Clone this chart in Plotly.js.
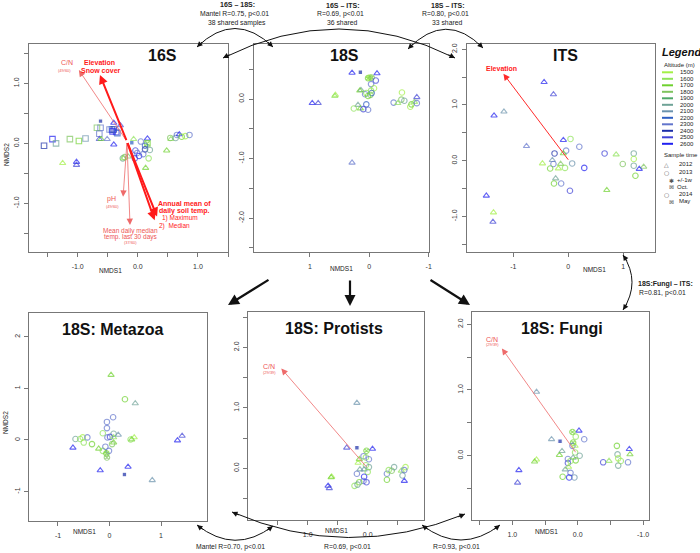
<!DOCTYPE html>
<html><head><meta charset="utf-8">
<script src="https://cdn.plot.ly/plotly-3.0.1.min.js"></script>
<style>html,body{margin:0;padding:0;background:#fff}#chart{width:700px;height:553px}</style>
</head><body><div id="chart"></div>
<script>
// ---------- legend data ----------
const altitudes = [1500,1600,1700,1800,1900,2000,2100,2200,2300,2400,2500,2600];
const altColors = ['#a3f046','#8fe35a','#6fd12f','#7fc45e','#4fa868','#6fa397','#6b93ad','#2f5fc2','#6275cc','#1c2fa8','#4043d6','#2020f0'];
const sampleTimes = ['2012','2013','+/-1w','Oct.','2014','May'];
const timeSymbols = ['triangle-up-open','circle-open','circle-x-open','square-x-open','square-open','square'];

// ---------- 16S ----------
const s16_x = [-1.56,-1.42,-1.36,-1.13,-0.98,-0.87,-1.25,-1.02,-1.02,-0.62,-0.62,-0.68,-0.64,-0.64,-0.61,-0.51,-0.40,-0.40,-0.29,-0.47,-0.43,-0.40,-0.36,-0.34,-0.42,-0.10,-0.07,0.05,0.16,0.16,0.12,0.12,0.20,-0.04,-0.01,0.02,0.09,-0.05,-0.25,-0.22,-0.24,-0.16,0.18,0.13,0.48,0.55,0.54,0.63,0.65,0.69,0.73,0.79,0.86];
const s16_y = [-0.04,0.07,0.00,0.07,0.04,0.08,-0.33,-0.31,-0.36,0.37,0.26,0.26,0.16,0.07,0.07,0.07,-0.02,0.34,0.30,0.23,0.23,0.23,0.19,0.17,0.20,0.01,0.07,0.03,0.08,0.00,-0.04,-0.10,-0.11,-0.12,-0.16,-0.21,-0.18,-0.25,-0.25,-0.23,-0.25,-0.22,-0.25,-0.41,-0.12,0.07,0.09,0.09,0.14,0.15,0.11,0.12,0.14];
const s16_alt = [2400,2600,2000,1800,1700,2100,1500,2600,2500,2400,2300,1800,2300,2500,1700,2300,2600,2600,2500,2300,2200,2400,2500,2200,2600,2200,1600,2300,2600,1700,2200,2400,2000,2500,2300,2600,2300,2500,2000,1800,1600,1800,1600,1700,1700,1600,1800,2000,2300,2600,1700,1500,2300];
const s16_time = ['2014','2014','2014','2014','2014','2014','2012','2012','2012','May','2014','2014','2014','2012','2012','2012','2012','2012','2012','2014','2014','2014','2014','2014','2014','May','2012','2013','2012','Oct.','2013','2013','2013','2013','2013','2013','2013','2013','2013','2013','2012','2012','2013','2012','2012','2012','2013','2013','2013','2012','2013','2013','2013'];
const v16_origin = [-0.18,0.03];
const v16_x = [-0.98,-0.63,-0.245,-0.13,0.32,0.28];
const v16_y = [1.22,1.14,-0.89,-1.36,-1.22,-1.28];
const v16_thick = [false,true,false,false,true,true];

// ---------- 18S ----------
const s18_x = [0.96,0.86,0.57,0.58,0.29,0.15,-0.13,0.02,-0.01,-0.04,-0.11,-0.03,-0.08,0.14,0.16,-0.03,0.07,-0.02,-0.04,0.05,0.02,0.05,0.19,0.26,0.15,0.10,0.02,-0.41,-0.48,-0.55,-0.54,-0.59,-0.69,-0.71,-0.76,-0.80,-0.80,0.29];
const s18_y = [-0.07,-0.07,0.07,0.05,0.44,0.45,0.43,0.35,0.36,0.36,0.31,0.25,0.18,0.15,0.14,0.14,0.08,0.07,0.10,0.10,0.05,-0.09,-0.10,-0.16,-0.16,-0.17,-0.18,-0.06,-0.07,0.11,-0.01,-0.03,-0.13,-0.09,-0.05,0.03,-0.07,-1.07];
const s18_alt = [2600,2500,1500,1600,2600,2400,2600,1700,1500,1800,2500,2300,1500,2000,1700,1600,2300,1800,2200,1600,1700,2200,2000,1600,1700,2500,2300,2300,1600,1500,1800,2000,1500,1700,1600,2500,2300,2300];
const s18_time = ['2012','2012','2012','2012','2012','May','2012','+/-1w','+/-1w','+/-1w','2013','2013','2013','2012','2012','2013','2013','2013','2013','2013','2013','2013','2012','2013','2012','2013','2013','2013','2012','2013','2013','2013','2013','2013','2012','2012','2013','2012'];

// ---------- ITS ----------
const its_x = [-0.44,-0.27,-1.35,-1.17,-0.76,-0.09,0.04,-0.04,0.20,-0.25,-0.09,-0.29,-0.47,-0.27,-0.14,0.07,-0.33,-0.18,-0.06,0.29,-0.23,-0.26,-0.13,0.03,0.66,0.87,0.99,0.70,1.19,1.19,1.19,1.37,1.29,1.22,-1.49,-1.36,-1.37];
const its_y = [1.41,1.19,0.81,0.88,0.26,0.37,0.39,0.18,0.25,0.13,0.13,0.01,-0.05,-0.06,-0.06,-0.05,-0.14,-0.14,-0.13,-0.13,-0.32,-0.41,-0.41,-0.54,0.13,0.11,-0.06,-0.53,0.13,0.03,-0.09,-0.11,-0.15,-0.27,-0.63,-0.93,-1.10];
const its_alt = [2600,2500,2600,2100,2300,2600,1600,2300,2300,2400,1700,2100,1500,2300,1800,2100,1700,1500,1600,2600,2000,1700,2300,2500,2500,1600,1800,1700,2000,1500,2000,1800,2600,1700,2600,1500,2500];
const its_time = ['2012','2012','2012','2012','2012','2012','2013','2013','2013','2013','2012','2012','2012','2013','2012','2013','2013','2012','2013','2013','2012','2013','2013','2013','2013','2012','2013','2012','2013','2013','2013','2012','2012','2013','2012','2012','2012'];
const vits_origin = [0.02,-0.01];
const vits_end = [-1.18,1.56];

// ---------- 18S: Metazoa ----------
const met_x = [0.03,0.30,0.50,0.07,-0.05,-0.05,-0.13,0.08,0.17,0.01,-0.04,0.08,0.48,0.43,0.41,-0.66,-0.57,-0.52,-0.50,-0.43,-0.34,-0.71,-0.21,-0.13,-0.01,0.08,0.05,-0.06,-0.05,-0.08,-0.18,0.36,0.29,0.83,1.32,1.41];
const met_y = [1.26,0.79,0.71,0.44,0.35,0.23,0.13,0.12,0.10,0.06,0.05,0.05,0.05,0.01,0.01,0.02,0.02,0.05,-0.05,0.05,-0.08,-0.15,-0.17,-0.21,-0.21,-0.05,-0.08,-0.26,-0.34,-0.13,-0.59,-0.52,-0.67,-0.78,-0.01,0.08];
const met_alt = [1700,1700,2000,2300,2300,2300,1600,2000,2100,2500,2300,1600,1500,1700,1600,2000,1600,1500,1600,2300,1700,2600,1700,1600,2300,1700,1800,1700,1800,2300,2600,2600,2400,2100,2600,2500];
const met_time = ['2012','2013','2012','2013','2013','2013','2013','2013','2012','2013','2013','2012','2012','2012','2013','2013','2013','2013','2013','2013','2013','2012','2012','2013','2013','2012','2013','+/-1w','+/-1w','2013','2012','2012','May','2012','2012','2012'];

// ---------- 18S: Protists ----------
const pro_x = [0.18,0.35,0.18,-0.08,0.02,0.07,0.03,-0.02,0.14,0.16,0.03,0.13,0.06,-0.02,0.00,0.18,0.06,0.07,0.02,0.14,0.22,0.17,0.60,0.61,0.66,0.64,-0.32,-0.32,-0.35,-0.40,-0.44,-0.56,-0.58,-0.63,-0.61,-0.61];
const pro_y = [1.08,0.34,0.34,0.32,0.29,0.20,0.18,0.15,0.15,0.09,0.05,-0.02,-0.02,0.02,-0.06,-0.09,-0.14,-0.21,-0.23,-0.23,-0.29,-0.27,-0.14,-0.15,-0.29,-0.33,-0.09,-0.19,-0.03,-0.04,0.02,-0.04,-0.12,0.02,-0.03,-0.21];
const pro_alt = [2100,2500,2400,2600,1700,2300,1600,2300,1700,1500,1600,2000,2100,2000,1600,2300,2600,2300,2500,1700,1600,2000,1500,1700,2600,2500,2300,1700,1600,1800,2000,1600,2000,1500,2300,2600];
const pro_time = ['2012','2012','May','2012','+/-1w','2013','2013','2013','2012','2012','2013','2012','2012','2013','2013','2013','2013','2013','2013','2013','2013','2013','2012','2012','2012','2012','2013','2013','2013','2013','2013','2012','2013','2013','2013','2012'];
const vpro_origin = [0.0,0.0];
const vpro_end = [1.44,1.65];

// ---------- 18S: Fungi ----------
const fun_x = [0.63,-0.02,0.08,0.03,-0.10,0.40,0.27,0.07,0.08,0.04,0.24,0.04,0.28,-0.03,0.15,0.07,0.03,0.15,0.11,0.14,0.19,0.11,0.23,0.13,0.05,0.63,0.66,0.90,0.92,-0.39,-0.48,-0.60,-0.61,-0.62,-0.62,-0.66,-0.79,-0.80,-0.77];
const fun_y = [0.97,0.38,0.36,0.29,0.25,0.25,0.22,0.20,0.15,0.15,0.07,0.05,0.01,0.00,-0.05,-0.03,-0.07,-0.11,-0.08,-0.17,-0.21,-0.26,-0.32,-0.33,-0.33,-0.06,-0.09,-0.22,-0.41,-0.10,-0.08,0.15,0.02,-0.04,-0.15,-0.08,0.10,0.02,-0.10];
const fun_alt = [2100,2600,1700,1600,2300,2100,2400,1700,2300,1500,2000,1600,1700,2000,2300,2000,1700,2500,1600,1500,2000,2300,1700,2600,2100,1500,1700,2600,2500,2500,1600,1700,2000,1500,2000,1600,2600,1700,2300];
const fun_time = ['2012','2012','+/-1w','2013','2013','2012','May','+/-1w','2013','2012','2012','2013','2012','2013','2013','2012','2013','2013','2013','2012','2012','2013','2013','2013','2013','2012','2012','2012','2012','2013','2012','2013','2013','2013','2013','2013','2012','2012','2013'];
const vfun_origin = [0.015,0.03];
const vfun_end = [1.16,1.63];

// ---------- tick labels ----------
const t16_vals = [-1.5,-1,-0.5,0,0.5,1,1.5];
const t16_text = ['','-1.0','','0.0','','1.0',''];
const t18x_vals = [1,0,-1], t18x_text = ['1','0','-1'];
const t18y_vals = [0.5,0,-0.5,-1,-1.5,-2,-2.5], t18y_text = ['','0.0','','-1.0','','-2.0',''];
const titsx_vals = [-1,0,1], titsx_text = ['-1','0','1'];
const titsy_vals = [-1.5,-1,-0.5,0,0.5,1,1.5,2], titsy_text = ['','-1.0','','0.0','','1.0','','2.0'];
const tmet_vals = [-1,0,1,2], tmet_text = ['-1','0','1','2'];
const tprox_vals = [1.5,1,0.5,0,-0.5], tprox_text = ['','1.0','','0.0',''];
const tproy_vals = [-0.5,0,0.5,1,1.5,2,2.5], tproy_text = ['','0.0','','1.0','','2.0',''];
const tfunx_vals = [1.5,1,0.5,0,-0.5,-1], tfunx_text = ['','1.0','','0.0','','-1.0'];
const tfuny_vals = [-0.5,0,0.5,1,1.5,2], tfuny_text = ['','0.0','','1.0','','2.0'];

// ---------- build ----------
const FONT = 'Liberation Sans, Arial, sans-serif';
const W = 700, H = 553;
const px = x => x / W, py = y => 1 - y / H;
const colOf = a => altColors[altitudes.indexOf(a)];
const symOf = t => timeSymbols[sampleTimes.indexOf(t)];

const panels = [
  {n:1, x:s16_x, y:s16_y, a:s16_alt, t:s16_time, box:[29,228,44,252], xr:[-1.81,1.5], yr:[-1.81,1.655], xv:t16_vals, xt:t16_text, yv:t16_vals, yt:t16_text},
  {n:2, x:s18_x, y:s18_y, a:s18_alt, t:s18_time, box:[254,429,44,252], xr:[1.94,-1.005], yr:[-2.57,0.924], xv:t18x_vals, xt:t18x_text, yv:t18y_vals, yt:t18y_text},
  {n:3, x:its_x, y:its_y, a:its_alt, t:its_time, box:[466.7,655,44,252], xr:[-1.847,1.576], yr:[-1.64,2.095], xv:titsx_vals, xt:titsx_text, yv:titsy_vals, yt:titsy_text},
  {n:4, x:met_x, y:met_y, a:met_alt, t:met_time, box:[29.3,206.7,312.7,521], xr:[-1.557,1.887], yr:[-1.57,2.467], xv:tmet_vals, xt:tmet_text, yv:tmet_vals, yt:tmet_text},
  {n:5, x:pro_x, y:pro_y, a:pro_alt, t:pro_time, box:[248.3,424,312.3,520], xr:[1.99,-0.938], yr:[-0.855,2.579], xv:tprox_vals, xt:tprox_text, yv:tproy_vals, yt:tproy_text},
  {n:6, x:fun_x, y:fun_y, a:fun_alt, t:fun_time, box:[472.3,649.3,312.3,520], xr:[1.613,-1.096], yr:[-0.977,2.18], xv:tfunx_vals, xt:tfunx_text, yv:tfuny_vals, yt:tfuny_text}
];

const traces = [];
const layout = {
  width: W, height: H, margin: {l:0, r:0, t:0, b:0},
  paper_bgcolor: '#fff', plot_bgcolor: '#fff', showlegend: false,
  font: {family: FONT, size: 7, color: '#222'},
  annotations: [], shapes: []
};
const axBase = {showgrid:false, zeroline:false, showline:true, mirror:true, linecolor:'#777', linewidth:1,
  ticks:'outside', ticklen:4, tickcolor:'#777', tickmode:'array', tickfont:{family:FONT, size:7, color:'#333'}, fixedrange:true};

panels.forEach(p => {
  const sfx = p.n === 1 ? '' : String(p.n);
  traces.push({
    type:'scatter', mode:'markers', x:p.x, y:p.y, xaxis:'x'+sfx, yaxis:'y'+sfx,
    marker:{symbol:p.t.map(symOf), color:p.a.map(colOf), size:p.t.map(t => t === 'May' ? 4.5 : 5.5), line:{width:1.1}},
    hoverinfo:'skip', cliponaxis:false
  });
  layout['xaxis'+sfx] = Object.assign({}, axBase, {
    domain:[px(p.box[0]), px(p.box[1])], range:p.xr, anchor:'y'+sfx,
    tickvals:p.xv, ticktext:p.xt, ticklabelstandoff:4
  });
  layout['yaxis'+sfx] = Object.assign({}, axBase, {
    domain:[py(p.box[3]), py(p.box[2])], range:p.yr, anchor:'x'+sfx,
    tickvals:p.yv, ticktext:p.yt, tickangle:-90, ticklabelstandoff:2
  });
});

const A = layout.annotations, S = layout.shapes;
function txt(x, y, text, size, opts) {
  A.push(Object.assign({xref:'paper', yref:'paper', x:px(x), y:py(y), text:text, showarrow:false,
    font:{family:FONT, size:size, color:'#222'}, xanchor:'center', yanchor:'middle'}, opts || {}));
}
function vec(sfx, x0, y0, x1, y1, color, width, size) {
  A.push({xref:'x'+sfx, yref:'y'+sfx, axref:'x'+sfx, ayref:'y'+sfx, x:x1, y:y1, ax:x0, ay:y0,
    text:'', showarrow:true, arrowhead:2, arrowsize:size, arrowwidth:width, arrowcolor:color, standoff:0});
}
function head(hx, hy, tx, ty, width, size) {
  const dx = tx - hx, dy = ty - hy, L = Math.hypot(dx, dy), k = 9 / L;
  A.push({xref:'paper', yref:'paper', x:px(hx), y:py(hy), ax:dx*k, ay:dy*k, text:'', showarrow:true,
    arrowhead:2, arrowsize:size, arrowwidth:width, arrowcolor:'#111', standoff:0});
}
function curve(p0, c, p1) {
  S.push({type:'path', xref:'paper', yref:'paper',
    path:`M ${px(p0[0])},${py(p0[1])} Q ${px(c[0])},${py(c[1])} ${px(p1[0])},${py(p1[1])}`,
    line:{color:'#111', width:1}});
  head(p0[0], p0[1], c[0], c[1], 1, 1.1);
  head(p1[0], p1[1], c[0], c[1], 1, 1.1);
}
function straight(x0, y0, x1, y1) {
  A.push({xref:'paper', yref:'paper', x:px(x1), y:py(y1), ax:x0-x1, ay:y0-y1, text:'', showarrow:true,
    arrowhead:2, arrowsize:1, arrowwidth:2.2, arrowcolor:'#111', standoff:0});
}

// environmental vectors
v16_x.forEach((vx, i) => {
  if (v16_thick[i]) vec('', v16_origin[0], v16_origin[1], vx, v16_y[i], '#ff1a1a', 2, 0.9);
  else vec('', v16_origin[0], v16_origin[1], vx, v16_y[i], '#ee6a6a', 0.8, 1.6);
});
vec('3', vits_origin[0], vits_origin[1], vits_end[0], vits_end[1], '#ff2a2a', 1, 1.3);
vec('5', vpro_origin[0], vpro_origin[1], vpro_end[0], vpro_end[1], '#ee6a6a', 0.8, 1.6);
vec('6', vfun_origin[0], vfun_origin[1], vfun_end[0], vfun_end[1], '#ee6a6a', 0.8, 1.6);

// vector labels
const red = '#ff1a1a', lred = '#ee5555';
txt(66.7, 63, 'C/N', 7, {font:{family:FONT, size:7, color:lred}});
txt(64.5, 70, '(49/60)', 4, {font:{family:FONT, size:4, color:lred}});
txt(99.5, 63, '<b>Elevation</b>', 7, {font:{family:FONT, size:7, color:red}});
txt(101, 70.5, '<b>Snow cover</b>', 7, {font:{family:FONT, size:7, color:red}});
txt(111.7, 199, 'pH', 7, {font:{family:FONT, size:7, color:lred}});
txt(112.7, 206, '(49/60)', 4, {font:{family:FONT, size:4, color:lred}});
txt(184.3, 203.3, '<b>Annual mean of</b>', 7, {font:{family:FONT, size:7, color:red}});
txt(184.3, 211, '<b>daily soil temp.</b>', 7, {font:{family:FONT, size:7, color:red}});
txt(180, 218.3, '1) Maximum', 6.5, {font:{family:FONT, size:6.5, color:red}});
txt(174, 225.7, '2)  Median', 6.5, {font:{family:FONT, size:6.5, color:red}});
txt(130, 230.7, 'Mean daily median', 6.5, {font:{family:FONT, size:6.5, color:lred}});
txt(130, 237.3, 'temp. last 30 days', 6.5, {font:{family:FONT, size:6.5, color:lred}});
txt(130, 242.5, '(37/60)', 4, {font:{family:FONT, size:4, color:lred}});
txt(501, 68.3, '<b>Elevation</b>', 7, {font:{family:FONT, size:7, color:red}});
txt(269, 366.7, 'C/N', 7, {font:{family:FONT, size:7, color:lred}});
txt(269, 372.7, '(29/39)', 4, {font:{family:FONT, size:4, color:lred}});
txt(492.3, 339, 'C/N', 7, {font:{family:FONT, size:7, color:lred}});
txt(492.3, 345, '(29/39)', 4, {font:{family:FONT, size:4, color:lred}});

// panel titles
[[162,56,'16S'],[344,55,'18S'],[565,55,'ITS'],[112,329,'18S: Metazoa'],[334,328,'18S: Protists'],[562,328,'18S: Fungi']]
  .forEach(t => txt(t[0], t[1], '<b>'+t[2]+'</b>', 16, {font:{family:FONT, size:16, color:'#111'}}));

// axis titles
[[110,270],[341.7,268],[594,269],[84,531.7],[336.7,530.7],[546.7,531.7]].forEach(t => txt(t[0], t[1], 'NMDS1', 6.5));
txt(7, 155, 'NMDS2', 6.5, {textangle:-90});
txt(5, 423, 'NMDS2', 6.5, {textangle:-90});

// relation texts
txt(237, 5, '<b>16S – 18S:</b>', 7);
txt(234, 14, 'Mantel R=0.75, p<0.01', 6.8);
txt(237, 22.5, '38 shared samples', 6.8);
txt(342, 5.5, '<b>16S – ITS:</b>', 7);
txt(340, 14, 'R=0.69, p<0.01', 6.8);
txt(342, 22.5, '36 shared', 6.8);
txt(447, 5.5, '<b>18S – ITS:</b>', 7);
txt(445, 14, 'R=0.80, p<0.01', 6.8);
txt(447, 22.5, '33 shared', 6.8);
txt(665, 284, '<b>18S:Fungi – ITS:</b>', 7);
txt(662, 293, 'R=0.81, p<0.01', 6.8);
txt(230, 547, 'Mantel R=0.70, p<0.01', 6.8);
txt(347, 547, 'R=0.69, p<0.01', 6.8);
txt(456, 547, 'R=0.93, p<0.01', 6.8);

// connecting arrows
curve([197,47],[235,10],[273,47]);
curve([223,58],[339,0],[455,58]);
curve([408,49],[446,10],[483,48]);
curve([623,255],[641,282],[623,310]);
curve([197,525],[235,555],[273,526]);
curve([232,512],[348,562],[465,514]);
curve([422,525],[461,555],[500,525]);
straight(270,279,228,305);
straight(350,279,350,306);
straight(429,279,470,305);

// legend
txt(660, 52, '<b><i>Legend</i></b>', 11, {xanchor:'left', font:{family:FONT, size:11, color:'#111'}});
txt(662, 65, 'Altitude (m)', 6, {xanchor:'left'});
altitudes.forEach((a, i) => {
  const yy = 72.3 + 6.5 * i;
  S.push({type:'line', xref:'paper', yref:'paper', x0:px(662), x1:px(673), y0:py(yy), y1:py(yy), line:{color:altColors[i], width:2}});
  txt(678, yy, String(a), 6, {xanchor:'left'});
});
txt(662, 155, 'Sample time', 6, {xanchor:'left'});
const legSym = ['△','○','✱','⊠','○','⊠'];
const legSymX = [666.7,666.7,671,671,666.7,671];
const legTxtX = [676.7,676.7,674.5,674.5,676.7,676.7];
const legY = [164.3,172.3,180,187,194,201];
sampleTimes.forEach((s, i) => {
  txt(legSymX[i], legY[i], legSym[i], 6, {font:{family:'DejaVu Sans', size:6, color:'#555'}});
  txt(legTxtX[i], legY[i], s, 6, {xanchor:'left'});
});

Plotly.newPlot('chart', traces, layout, {staticPlot:true, displayModeBar:false});
</script></body></html>
